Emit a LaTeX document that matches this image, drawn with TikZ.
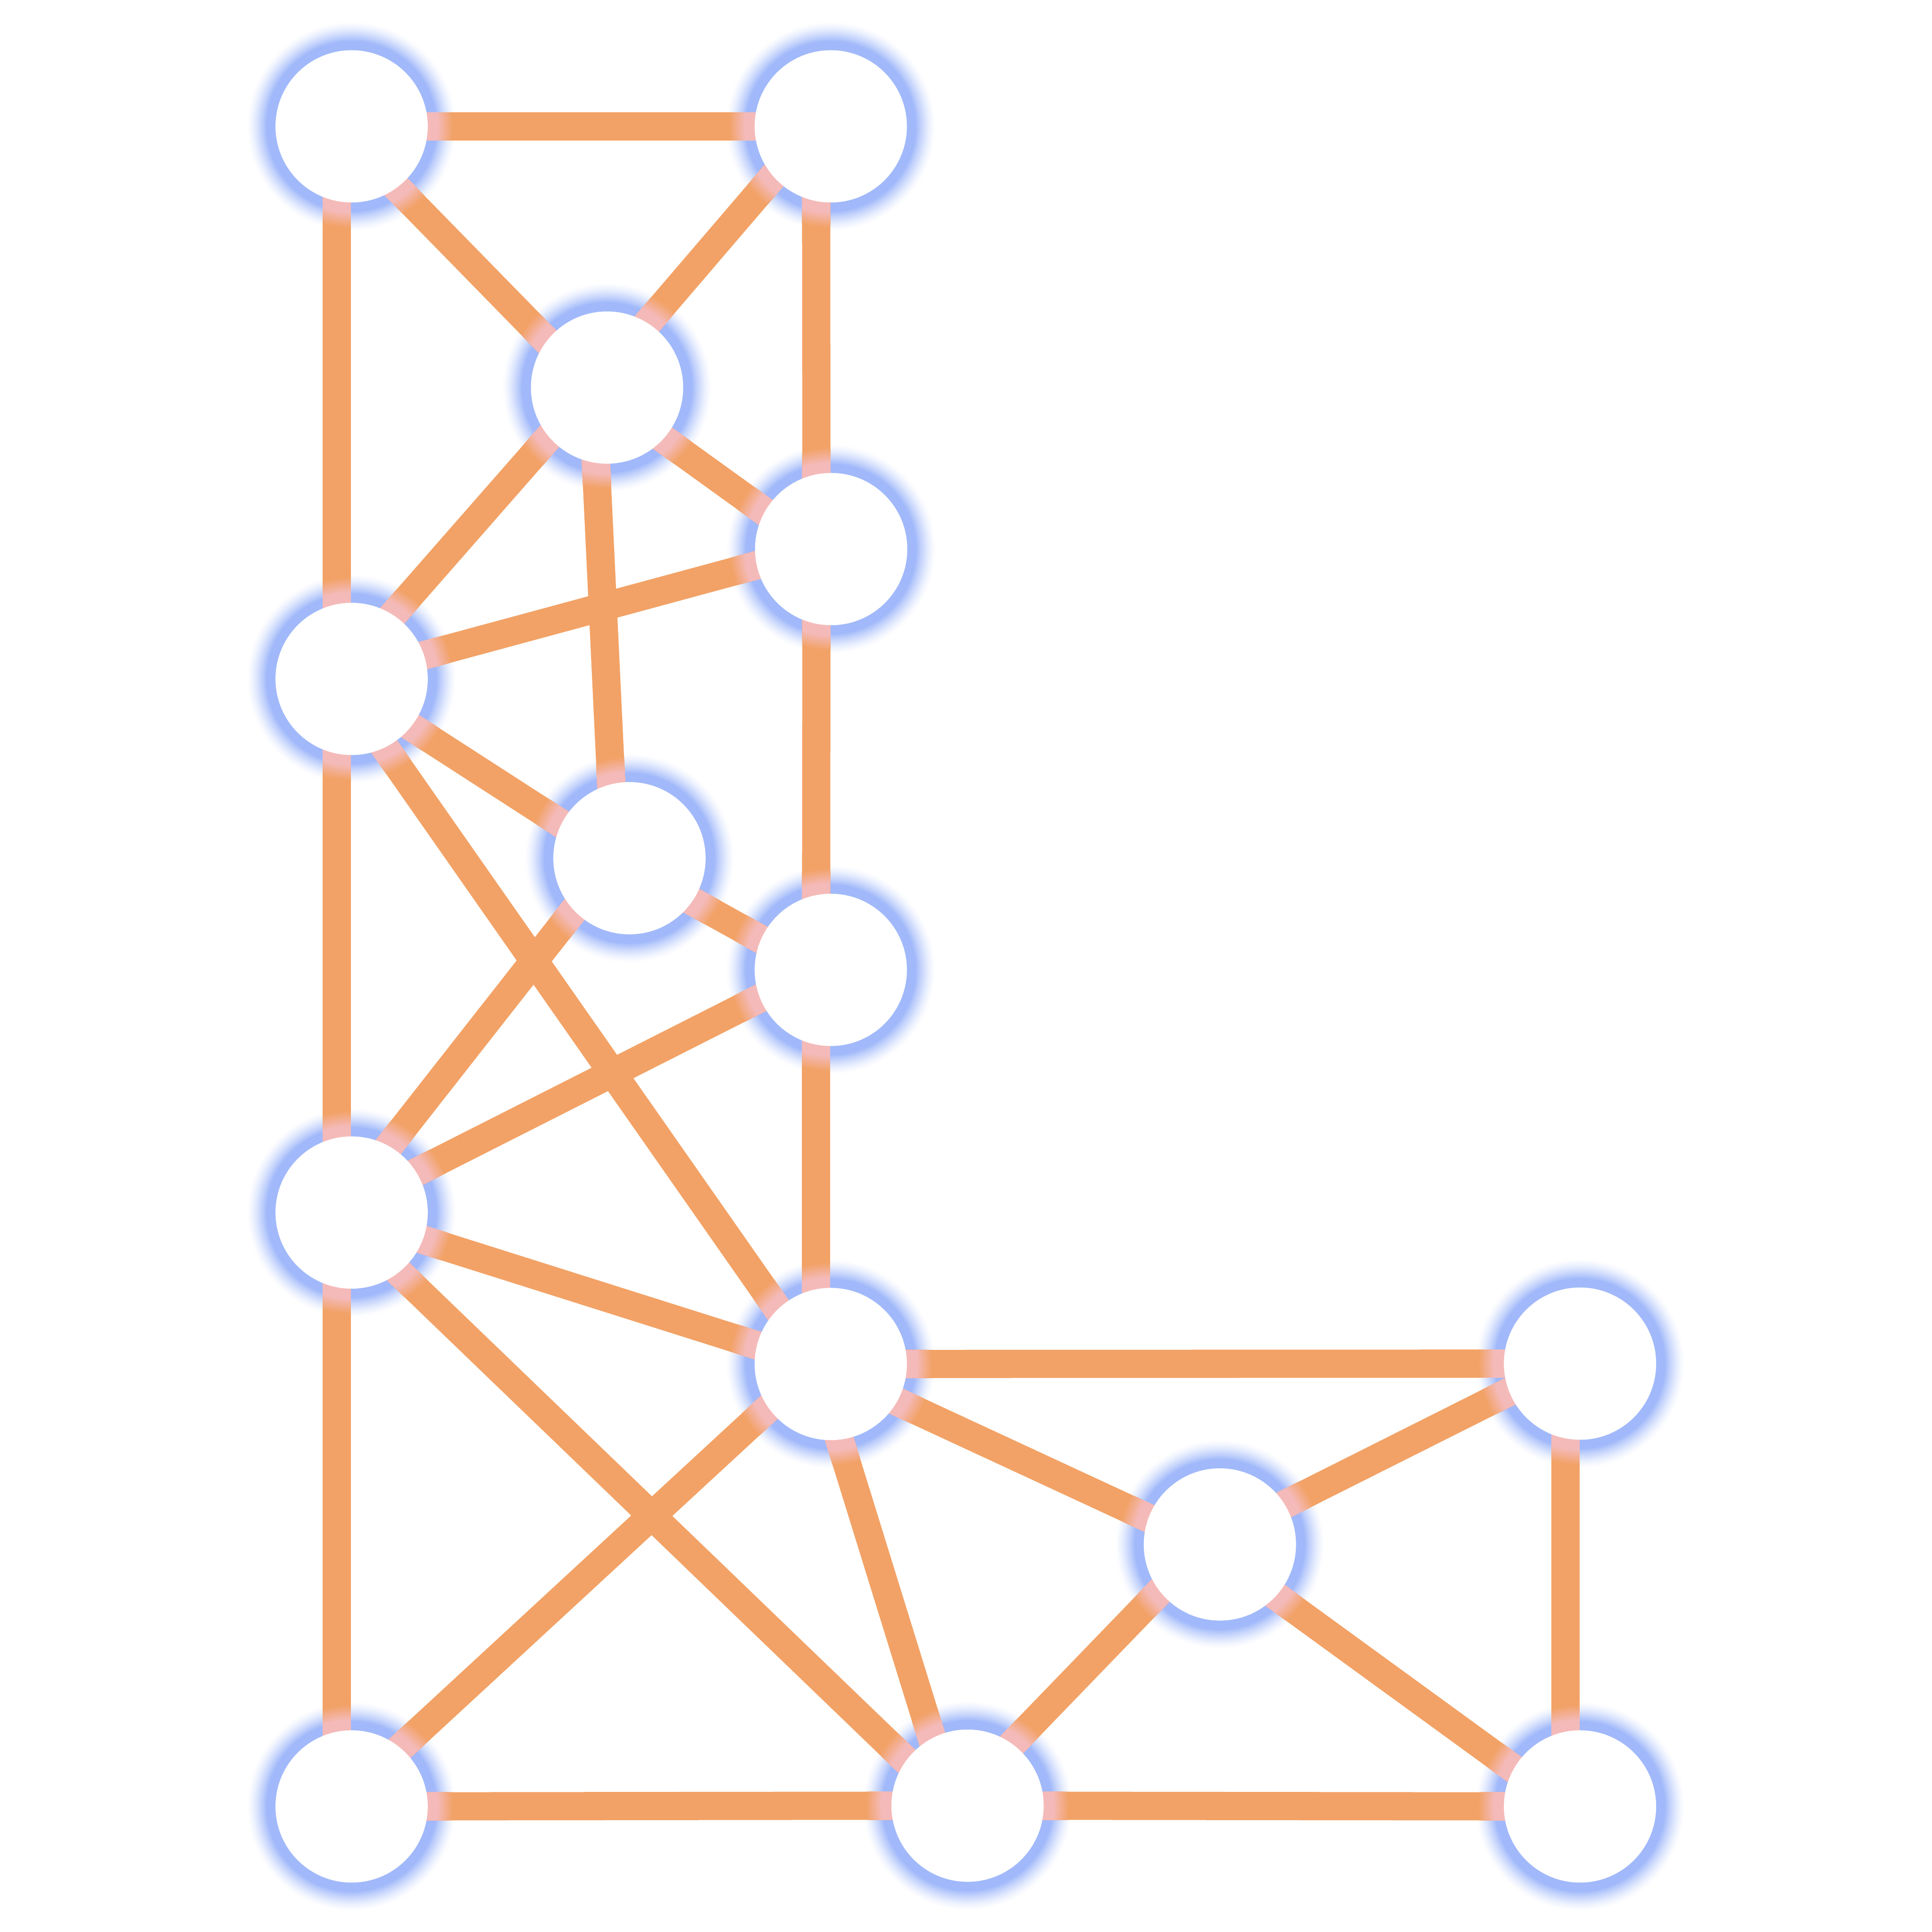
\documentclass[tikz,border=0pt]{standalone}
\usetikzlibrary{calc}
\definecolor{linkorange}{RGB}{242,162,102}
\definecolor{linkpink}{RGB}{244,186,185}
\definecolor{haloblue}{RGB}{161,185,250}
\begin{document}
\begin{tikzpicture}[x=1cm,y=-1cm,
    link/.style={line width=0.73cm},
    vertex/.style={circle,fill=white,inner sep=0pt,minimum size=3.94cm}]
  \def\Rh{2.21}
  \def\nodelist{A,B,C,D,E,F,G,H,I,J,K,L,M,N}
  \def\edgelist{A/B,A/C,B/C,A/E,B/D,C/D,C/E,C/F,E/D,E/F,E/H,E/I,F/G,F/H,G/H,D/G,G/I,H/I,H/M,I/L,H/L,I/J,I/K,I/M,K/J,K/M,K/N,J/N,L/M,M/N}
  \fill[white] (0,0) rectangle (50,50);
  \useasboundingbox (0,0) rectangle (50,50);
  \coordinate (A) at (9.10,3.27);
  \coordinate (B) at (21.50,3.27);
  \coordinate (C) at (15.71,10.03);
  \coordinate (D) at (21.51,14.21);
  \coordinate (E) at (9.10,17.57);
  \coordinate (F) at (16.29,22.21);
  \coordinate (G) at (21.50,25.10);
  \coordinate (H) at (9.10,31.38);
  \coordinate (I) at (21.50,35.30);
  \coordinate (J) at (40.89,35.29);
  \coordinate (K) at (31.57,39.97);
  \coordinate (L) at (9.10,46.75);
  \coordinate (M) at (25.04,46.73);
  \coordinate (N) at (40.89,46.75);
  % blue halo
  \foreach \n in \nodelist {
    \foreach \k in {19,18,...,1} {
      \pgfmathsetmacro\rr{\Rh+0.026*\k}
      \pgfmathtruncatemacro\pp{100*(1-\k/20)^1.4}
      \fill[haloblue!\pp!white] (\n) circle (\rr);
    }
    \fill[haloblue] (\n) circle (\Rh);
  }
  % links
  \foreach \a/\b in \edgelist {
    \draw[link,linkorange] ([xshift=-0.38cm]\a) -- ([xshift=-0.38cm]\b);
  }
  % pink near the nodes
  \foreach \k in {9,8,...,0} {
    \pgfmathsetmacro\rr{2.25+0.04*\k}
    \pgfmathtruncatemacro\pp{100-10*\k}
    \begin{scope}
      \clip \foreach \n in \nodelist {(\n) circle (\rr)};
      \foreach \a/\b in \edgelist {
        \draw[link,linkpink!\pp!linkorange] ([xshift=-0.38cm]\a) -- ([xshift=-0.38cm]\b);
      }
    \end{scope}
  }
  \foreach \n in \nodelist {
    \node[vertex] (v\n) at (\n) {};
  }
\end{tikzpicture}
\end{document}
